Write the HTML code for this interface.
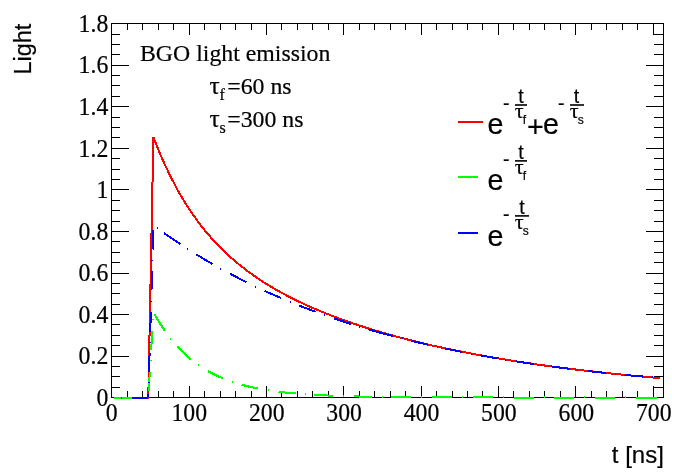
<!DOCTYPE html><html><head><meta charset="utf-8"><title>BGO light emission</title>
<style>html,body{margin:0;padding:0;background:#fff}svg{display:block}text{fill:#000;stroke:#000;stroke-width:.2px}.ser{font-family:"Liberation Serif",serif}.san{font-family:"Liberation Sans",sans-serif}</style></head><body>
<svg width="698" height="474" viewBox="0 0 698 474">
<rect width="698" height="474" fill="#fff"/>
<g stroke="#000" stroke-width="1" fill="none" shape-rendering="crispEdges">
<rect x="111.5" y="23.5" width="552" height="374"/>
<path d="M111.5,397V386M111.5,24V35M127.5,397V391M127.5,24V30M142.5,397V391M142.5,24V30M158.5,397V391M158.5,24V30M173.5,397V391M173.5,24V30M189.5,397V386M189.5,24V35M204.5,397V391M204.5,24V30M220.5,397V391M220.5,24V30M235.5,397V391M235.5,24V30M251.5,397V391M251.5,24V30M266.5,397V386M266.5,24V35M281.5,397V391M281.5,24V30M297.5,397V391M297.5,24V30M312.5,397V391M312.5,24V30M328.5,397V391M328.5,24V30M343.5,397V386M343.5,24V35M359.5,397V391M359.5,24V30M374.5,397V391M374.5,24V30M390.5,397V391M390.5,24V30M405.5,397V391M405.5,24V30M421.5,397V386M421.5,24V35M436.5,397V391M436.5,24V30M452.5,397V391M452.5,24V30M467.5,397V391M467.5,24V30M482.5,397V391M482.5,24V30M498.5,397V386M498.5,24V35M513.5,397V391M513.5,24V30M529.5,397V391M529.5,24V30M544.5,397V391M544.5,24V30M560.5,397V391M560.5,24V30M575.5,397V386M575.5,24V35M591.5,397V391M591.5,24V30M606.5,397V391M606.5,24V30M622.5,397V391M622.5,24V30M637.5,397V391M637.5,24V30M653.5,397V386M653.5,24V35"/>
<path d="M112,397.5H129M663,397.5H646M112,387.5H120M663,387.5H654M112,376.5H120M663,376.5H654M112,366.5H120M663,366.5H654M112,356.5H129M663,356.5H646M112,345.5H120M663,345.5H654M112,335.5H120M663,335.5H654M112,324.5H120M663,324.5H654M112,314.5H129M663,314.5H646M112,304.5H120M663,304.5H654M112,293.5H120M663,293.5H654M112,283.5H120M663,283.5H654M112,273.5H129M663,273.5H646M112,262.5H120M663,262.5H654M112,252.5H120M663,252.5H654M112,241.5H120M663,241.5H654M112,231.5H129M663,231.5H646M112,221.5H120M663,221.5H654M112,210.5H120M663,210.5H654M112,200.5H120M663,200.5H654M112,189.5H129M663,189.5H646M112,179.5H120M663,179.5H654M112,169.5H120M663,169.5H654M112,158.5H120M663,158.5H654M112,148.5H129M663,148.5H646M112,137.5H120M663,137.5H654M112,127.5H120M663,127.5H654M112,117.5H120M663,117.5H654M112,106.5H129M663,106.5H646M112,96.5H120M663,96.5H654M112,85.5H120M663,85.5H654M112,75.5H120M663,75.5H654M112,65.5H129M663,65.5H646M112,54.5H120M663,54.5H654M112,44.5H120M663,44.5H654M112,34.5H120M663,34.5H654M112,23.5H129M663,23.5H646"/>
</g>
<g fill="none" stroke-width="2" shape-rendering="crispEdges" stroke-linejoin="miter">
<polyline points="113.7,397.5 148.3,397.5 153.4,137.0 155.4,142.2 157.4,147.2 159.4,152.1 161.4,156.8 163.4,161.3 165.4,165.7 167.4,170.0 169.4,174.1 171.4,178.2 173.4,182.0 175.3,185.8 177.3,189.5 179.3,193.0 181.3,196.4 183.3,199.8 185.3,203.0 187.3,206.2 189.3,209.2 191.3,212.2 193.3,215.1 195.3,217.9 197.3,220.7 199.3,223.3 201.3,225.9 203.3,228.4 205.3,230.9 207.3,233.3 209.3,235.6 211.3,237.9 213.3,240.1 215.3,242.3 217.2,244.4 219.2,246.4 221.2,248.4 223.2,250.4 225.2,252.3 227.2,254.2 229.2,256.0 231.2,257.8 233.2,259.5 235.2,261.3 237.2,262.9 239.2,264.6 241.2,266.2 243.2,267.7 245.2,269.3 247.2,270.8 249.2,272.3 251.2,273.7 253.2,275.1 255.2,276.5 257.2,277.9 259.1,279.2 261.1,280.5 263.1,281.8 265.1,283.1 267.1,284.3 269.1,285.6 271.1,286.8 273.1,288.0 275.1,289.1 277.1,290.3 279.1,291.4 281.1,292.5 283.1,293.6 285.1,294.6 287.1,295.7 289.1,296.7 291.1,297.8 293.1,298.8 295.1,299.8 297.1,300.7 299.1,301.7 301.1,302.6 303.0,303.6 305.0,304.5 307.0,305.4 309.0,306.3 311.0,307.2 313.0,308.1 315.0,308.9 317.0,309.8 319.0,310.6 321.0,311.4 323.0,312.2 325.0,313.0 327.0,313.8 329.0,314.6 331.0,315.4 333.0,316.2 335.0,316.9 337.0,317.7 339.0,318.4 341.0,319.2 343.0,319.9 344.9,320.6 346.9,321.3 348.9,322.0 350.9,322.7 352.9,323.4 354.9,324.0 356.9,324.7 358.9,325.4 360.9,326.0 362.9,326.7 364.9,327.3 366.9,327.9 368.9,328.6 370.9,329.2 372.9,329.8 374.9,330.4 376.9,331.0 378.9,331.6 380.9,332.2 382.9,332.8 384.9,333.3 386.8,333.9 388.8,334.5 390.8,335.0 392.8,335.6 394.8,336.1 396.8,336.7 398.8,337.2 400.8,337.7 402.8,338.2 404.8,338.8 406.8,339.3 408.8,339.8 410.8,340.3 412.8,340.8 414.8,341.3 416.8,341.8 418.8,342.3 420.8,342.8 422.8,343.2 424.8,343.7 426.8,344.2 428.7,344.6 430.7,345.1 432.7,345.6 434.7,346.0 436.7,346.5 438.7,346.9 440.7,347.3 442.7,347.8 444.7,348.2 446.7,348.6 448.7,349.1 450.7,349.5 452.7,349.9 454.7,350.3 456.7,350.7 458.7,351.1 460.7,351.5 462.7,351.9 464.7,352.3 466.7,352.7 468.7,353.1 470.6,353.5 472.6,353.8 474.6,354.2 476.6,354.6 478.6,355.0 480.6,355.3 482.6,355.7 484.6,356.1 486.6,356.4 488.6,356.8 490.6,357.1 492.6,357.5 494.6,357.8 496.6,358.2 498.6,358.5 500.6,358.8 502.6,359.2 504.6,359.5 506.6,359.8 508.6,360.1 510.6,360.5 512.5,360.8 514.5,361.1 516.5,361.4 518.5,361.7 520.5,362.0 522.5,362.3 524.5,362.6 526.5,362.9 528.5,363.2 530.5,363.5 532.5,363.8 534.5,364.1 536.5,364.4 538.5,364.7 540.5,364.9 542.5,365.2 544.5,365.5 546.5,365.8 548.5,366.1 550.5,366.3 552.5,366.6 554.5,366.9 556.4,367.1 558.4,367.4 560.4,367.6 562.4,367.9 564.4,368.1 566.4,368.4 568.4,368.6 570.4,368.9 572.4,369.1 574.4,369.4 576.4,369.6 578.4,369.9 580.4,370.1 582.4,370.3 584.4,370.6 586.4,370.8 588.4,371.0 590.4,371.2 592.4,371.5 594.4,371.7 596.4,371.9 598.3,372.1 600.3,372.4 602.3,372.6 604.3,372.8 606.3,373.0 608.3,373.2 610.3,373.4 612.3,373.6 614.3,373.8 616.3,374.0 618.3,374.2 620.3,374.4 622.3,374.6 624.3,374.8 626.3,375.0 628.3,375.2 630.3,375.4 632.3,375.6 634.3,375.8 636.3,376.0 638.3,376.1 640.2,376.3 642.2,376.5 644.2,376.7 646.2,376.9 648.2,377.0 650.2,377.2 652.2,377.4 654.2,377.6 656.2,377.7 658.2,377.9 660.2,378.1" stroke="#f00"/>
<polyline points="113.7,397.5 133.7,397.5" stroke="#0f0"/>
<rect x="144" y="397" width="1" height="2" fill="#0f0" stroke="none"/>
<polyline points="148.7,390.7 149.8,371.7" stroke="#0f0"/>
<rect x="150" y="360" width="2" height="1" fill="#0f0" stroke="none"/>
<polyline points="151.2,349.6 152.3,330.6" stroke="#0f0"/>
<rect x="152" y="319" width="2" height="1" fill="#0f0" stroke="none"/>
<polyline points="154.6,314.3 156.3,317.3 158.0,320.2 159.7,323.0 161.4,325.6 163.1,328.2 164.8,330.7" stroke="#0f0"/>
<rect x="170" y="338" width="1" height="2" fill="#0f0" stroke="none"/>
<polyline points="177.1,346.2 179.1,348.4 181.0,350.4 183.0,352.3 184.9,354.2 186.9,356.0 188.8,357.7 190.8,359.3" stroke="#0f0"/>
<rect x="198" y="364" width="1" height="2" fill="#0f0" stroke="none"/>
<polyline points="207.8,371.0 209.8,372.1 211.7,373.2 213.7,374.2 215.6,375.1 217.6,376.0 219.5,376.9 221.5,377.8 223.4,378.6" stroke="#0f0"/>
<rect x="232" y="381" width="1" height="2" fill="#0f0" stroke="none"/>
<polyline points="241.5,384.7 243.4,385.2 245.2,385.7 247.1,386.1 248.9,386.6 250.8,387.0 252.6,387.4 254.5,387.8 256.3,388.2 258.2,388.6" stroke="#0f0"/>
<rect x="268" y="389" width="1" height="2" fill="#0f0" stroke="none"/>
<polyline points="278.6,391.7 280.5,392.0 282.4,392.2 284.3,392.4 286.2,392.6 288.2,392.8 290.1,393.0 292.0,393.2 293.9,393.4 295.8,393.5" stroke="#0f0"/>
<rect x="305" y="393" width="1" height="2" fill="#0f0" stroke="none"/>
<polyline points="314.4,394.8 316.3,394.9 318.1,395.0 320.0,395.1 321.8,395.2 323.7,395.3 325.6,395.4 327.4,395.5 329.3,395.6 331.1,395.6 333.0,395.7" stroke="#0f0"/>
<rect x="343" y="395" width="1" height="2" fill="#0f0" stroke="none"/>
<polyline points="353.9,396.4 355.8,396.4 357.6,396.4 359.4,396.5 361.3,396.5 363.1,396.6 365.0,396.6 366.8,396.6 368.7,396.7 370.5,396.7 372.4,396.7" stroke="#0f0"/>
<rect x="382" y="396" width="1" height="2" fill="#0f0" stroke="none"/>
<polyline points="391.0,397.0 393.0,397.0 395.0,397.0 396.9,397.0 398.9,397.1 400.9,397.1 402.9,397.1 404.9,397.1 406.8,397.1 408.8,397.2 410.8,397.2" stroke="#0f0"/>
<rect x="421" y="396" width="1" height="2" fill="#0f0" stroke="none"/>
<polyline points="432.0,397.3 433.9,397.3 435.9,397.3 437.9,397.3 439.8,397.3 441.8,397.3 443.7,397.3 445.6,397.3 447.6,397.3 449.6,397.4 451.5,397.4" stroke="#0f0"/>
<rect x="462" y="396" width="1" height="2" fill="#0f0" stroke="none"/>
<polyline points="473.0,397.4 474.9,397.4 476.9,397.4 478.9,397.4 480.8,397.4 482.8,397.4 484.7,397.4 486.6,397.4 488.6,397.4 490.6,397.4 492.5,397.4" stroke="#0f0"/>
<rect x="503" y="396" width="1" height="2" fill="#0f0" stroke="none"/>
<polyline points="514.0,397.5 516.0,397.5 517.9,397.5 519.9,397.5 521.8,397.5 523.8,397.5 525.7,397.5 527.6,397.5 529.6,397.5 531.5,397.5 533.5,397.5" stroke="#0f0"/>
<rect x="544" y="396" width="1" height="2" fill="#0f0" stroke="none"/>
<polyline points="554.0,397.5 556.0,397.5 558.0,397.5 559.9,397.5 561.9,397.5 563.9,397.5 565.9,397.5 567.9,397.5 569.8,397.5 571.8,397.5 573.8,397.5" stroke="#0f0"/>
<rect x="584" y="396" width="1" height="2" fill="#0f0" stroke="none"/>
<polyline points="594.9,397.5 596.7,397.5 598.6,397.5 600.4,397.5 602.2,397.5 604.0,397.5 605.9,397.5 607.7,397.5 609.5,397.5 611.3,397.5 613.2,397.5 615.0,397.5" stroke="#0f0"/>
<rect x="625" y="396" width="1" height="2" fill="#0f0" stroke="none"/>
<polyline points="636.0,397.5 637.9,397.5 639.7,397.5 641.6,397.5 643.5,397.5 645.4,397.5 647.2,397.5 649.1,397.5 651.0,397.5 652.9,397.5 654.7,397.5 656.6,397.5" stroke="#0f0"/>
<rect x="121" y="397" width="1" height="2" fill="#00f" stroke="none"/>
<polyline points="131.6,397.5 148.3,397.5" stroke="#00f"/>
<polyline points="148.3,397.5 148.4,394.2" stroke="#00f"/>
<rect x="148" y="382" width="2" height="1" fill="#00f" stroke="none"/>
<polyline points="149.1,371.7 149.6,352.7" stroke="#00f"/>
<rect x="149" y="342" width="2" height="1" fill="#00f" stroke="none"/>
<polyline points="150.3,331.6 150.8,311.6" stroke="#00f"/>
<rect x="150" y="301" width="2" height="1" fill="#00f" stroke="none"/>
<polyline points="151.5,290.0 152.0,271.0" stroke="#00f"/>
<rect x="151" y="260" width="2" height="1" fill="#00f" stroke="none"/>
<polyline points="152.7,249.5 153.3,230.0" stroke="#00f"/>
<rect x="157" y="227" width="1" height="2" fill="#00f" stroke="none"/>
<polyline points="164.0,233.0 165.8,234.3 167.7,235.6 169.5,236.9 171.3,238.1 173.2,239.4 175.0,240.6 176.8,241.8 178.7,243.1 180.5,244.3" stroke="#00f"/>
<rect x="187" y="248" width="1" height="2" fill="#00f" stroke="none"/>
<polyline points="196.4,254.4 198.2,255.5 200.0,256.6 201.8,257.7 203.6,258.8 205.4,259.9 207.2,260.9 209.0,262.0 210.8,263.0 212.6,264.1" stroke="#00f"/>
<rect x="220" y="268" width="1" height="2" fill="#00f" stroke="none"/>
<polyline points="230.1,273.7 231.9,274.7 233.7,275.7 235.5,276.6 237.3,277.5 239.2,278.5 241.0,279.4 242.8,280.3 244.6,281.2 246.4,282.1" stroke="#00f"/>
<rect x="255" y="286" width="1" height="2" fill="#00f" stroke="none"/>
<polyline points="264.5,290.8 266.3,291.6 268.2,292.5 270.0,293.3 271.9,294.1 273.7,294.9 275.6,295.7 277.4,296.5 279.3,297.3 281.1,298.1" stroke="#00f"/>
<rect x="290" y="301" width="1" height="2" fill="#00f" stroke="none"/>
<polyline points="299.2,305.6 301.0,306.3 302.8,307.0 304.6,307.7 306.4,308.4 308.3,309.1 310.1,309.8 311.9,310.5 313.7,311.1 315.5,311.8" stroke="#00f"/>
<rect x="324" y="314" width="1" height="2" fill="#00f" stroke="none"/>
<polyline points="334.1,318.4 336.0,319.0 337.9,319.7 339.7,320.3 341.6,320.9 343.5,321.5 345.4,322.2 347.2,322.8 349.1,323.4 351.0,324.0" stroke="#00f"/>
<rect x="359" y="326" width="1" height="2" fill="#00f" stroke="none"/>
<polyline points="368.4,329.3 370.3,329.8 372.2,330.4 374.1,330.9 376.1,331.5 378.0,332.0 379.9,332.6 381.8,333.1 383.7,333.6 385.6,334.1 387.6,334.7 389.5,335.2 391.4,335.7 393.3,336.2" stroke="#00f"/>
<rect x="402" y="337" width="1" height="2" fill="#00f" stroke="none"/>
<polyline points="411.5,340.8 413.3,341.3 415.2,341.7 417.0,342.1 418.8,342.6 420.7,343.0 422.5,343.4 424.3,343.9 426.2,344.3 428.0,344.7" stroke="#00f"/>
<rect x="437" y="346" width="1" height="2" fill="#00f" stroke="none"/>
<polyline points="445.2,348.5 447.1,348.9 449.0,349.3 450.9,349.7 452.8,350.1 454.7,350.4 456.6,350.8 458.5,351.2 460.4,351.6 462.3,352.0" stroke="#00f"/>
<rect x="471" y="353" width="1" height="2" fill="#00f" stroke="none"/>
<polyline points="480.4,355.4 482.4,355.7 484.4,356.1 486.4,356.4 488.4,356.8 490.4,357.1 492.4,357.5 494.4,357.8 496.4,358.2 498.4,358.5" stroke="#00f"/>
<rect x="505" y="359" width="1" height="2" fill="#00f" stroke="none"/>
<polyline points="515.6,361.3 517.4,361.6 519.2,361.9 521.0,362.1 522.8,362.4 524.7,362.7 526.5,362.9 528.3,363.2 530.1,363.5 531.9,363.7 533.7,364.0" stroke="#00f"/>
<rect x="541" y="364" width="1" height="2" fill="#00f" stroke="none"/>
<polyline points="550.9,366.4 552.8,366.6 554.6,366.9 556.5,367.1 558.3,367.4 560.2,367.6 562.1,367.9 563.9,368.1 565.8,368.3 567.6,368.6 569.5,368.8" stroke="#00f"/>
<rect x="577" y="369" width="1" height="2" fill="#00f" stroke="none"/>
<polyline points="588.4,371.0 590.3,371.3 592.2,371.5 594.1,371.7 596.0,371.9 598.0,372.1 599.9,372.3 601.8,372.5 603.7,372.7 605.6,372.9" stroke="#00f"/>
<rect x="615" y="373" width="1" height="2" fill="#00f" stroke="none"/>
<polyline points="624.5,374.8 626.4,375.0 628.3,375.2 630.2,375.4 632.1,375.6 634.0,375.7 635.8,375.9 637.7,376.1 639.6,376.3 641.5,376.4 643.4,376.6" stroke="#00f"/>
<rect x="652" y="376" width="1" height="2" fill="#00f" stroke="none"/>
</g>
<g class="ser" font-size="25">
<text transform="translate(111.8,420.7) scale(0.95,1)" text-anchor="middle">0</text>
<text transform="translate(189.2,420.7) scale(0.95,1)" text-anchor="middle">100</text>
<text transform="translate(266.7,420.7) scale(0.95,1)" text-anchor="middle">200</text>
<text transform="translate(344.1,420.7) scale(0.95,1)" text-anchor="middle">300</text>
<text transform="translate(421.5,420.7) scale(0.95,1)" text-anchor="middle">400</text>
<text transform="translate(498.9,420.7) scale(0.95,1)" text-anchor="middle">500</text>
<text transform="translate(576.4,420.7) scale(0.95,1)" text-anchor="middle">600</text>
<text transform="translate(653.8,420.7) scale(0.95,1)" text-anchor="middle">700</text>
<text transform="translate(108.3,405.9) scale(0.95,1)" text-anchor="end">0</text>
<text transform="translate(108.3,364.3) scale(0.95,1)" text-anchor="end">0.2</text>
<text transform="translate(108.3,322.8) scale(0.95,1)" text-anchor="end">0.4</text>
<text transform="translate(108.3,281.2) scale(0.95,1)" text-anchor="end">0.6</text>
<text transform="translate(108.3,239.7) scale(0.95,1)" text-anchor="end">0.8</text>
<text transform="translate(108.3,198.1) scale(0.95,1)" text-anchor="end">1</text>
<text transform="translate(108.3,156.5) scale(0.95,1)" text-anchor="end">1.2</text>
<text transform="translate(108.3,115.0) scale(0.95,1)" text-anchor="end">1.4</text>
<text transform="translate(108.3,73.4) scale(0.95,1)" text-anchor="end">1.6</text>
<text transform="translate(108.3,31.9) scale(0.95,1)" text-anchor="end">1.8</text>
</g>
<text class="san" font-size="24.6" transform="translate(30.8,74.6) rotate(-90) scale(0.955,1)">Light</text>
<text class="san" font-size="24" x="663.9" y="463" text-anchor="end">t [ns]</text>
<text class="ser" font-size="23.8" x="140" y="61">BGO light emission</text>
<text class="ser" font-size="25.5" x="209.5" y="94">τ</text>
<text class="ser" font-size="16" x="219.6" y="100">f</text>
<text class="ser" font-size="23.8" x="227.3" y="94">=60 ns</text>
<text class="ser" font-size="25.5" x="209.5" y="127">τ</text>
<text class="ser" font-size="16" x="219.6" y="133">s</text>
<text class="ser" font-size="23.8" x="227.3" y="127">=300 ns</text>
<rect x="458" y="121" width="25" height="2" fill="#f00" shape-rendering="crispEdges"/>
<text class="san" font-size="28.7" x="487.5" y="133.5">e</text>
<text class="san" font-size="19.5" x="503.0" y="109.7">-</text><rect x="515.0" y="104.2" width="12.0" height="1.6" fill="#000"/><text class="san" font-size="19.5" x="521.0" y="103.2" text-anchor="middle">t</text><text class="ser" font-size="22" x="514.7" y="118.3">τ</text><text class="san" font-size="12" x="522.8" y="124.0">f</text>
<text class="san" font-size="28.7" x="527" y="136.8">+</text>
<text class="san" font-size="28.7" x="543" y="133.5">e</text>
<text class="san" font-size="19.5" x="558.0" y="109.7">-</text><rect x="570.0" y="104.2" width="14.0" height="1.6" fill="#000"/><text class="san" font-size="19.5" x="576.5" y="103.2" text-anchor="middle">t</text><text class="ser" font-size="22" x="569.7" y="118.3">τ</text><text class="san" font-size="12" x="577.8" y="124.0">s</text>
<rect x="458" y="176" width="20" height="2" fill="#0f0" shape-rendering="crispEdges"/>
<text class="san" font-size="28.7" x="487.5" y="189.5">e</text>
<text class="san" font-size="19.5" x="503.0" y="165.6">-</text><rect x="515.0" y="160.1" width="12.0" height="1.6" fill="#000"/><text class="san" font-size="19.5" x="521.0" y="159.1" text-anchor="middle">t</text><text class="ser" font-size="22" x="514.7" y="174.2">τ</text><text class="san" font-size="12" x="522.8" y="179.9">f</text>
<rect x="458" y="232" width="20" height="2" fill="#00f" shape-rendering="crispEdges"/>
<text class="san" font-size="28.7" x="487.5" y="245.7">e</text>
<text class="san" font-size="19.5" x="503.0" y="220.6">-</text><rect x="515.0" y="215.1" width="14.0" height="1.6" fill="#000"/><text class="san" font-size="19.5" x="522.0" y="214.1" text-anchor="middle">t</text><text class="ser" font-size="22" x="514.7" y="229.2">τ</text><text class="san" font-size="12" x="522.8" y="234.9">s</text>
</svg></body></html>
